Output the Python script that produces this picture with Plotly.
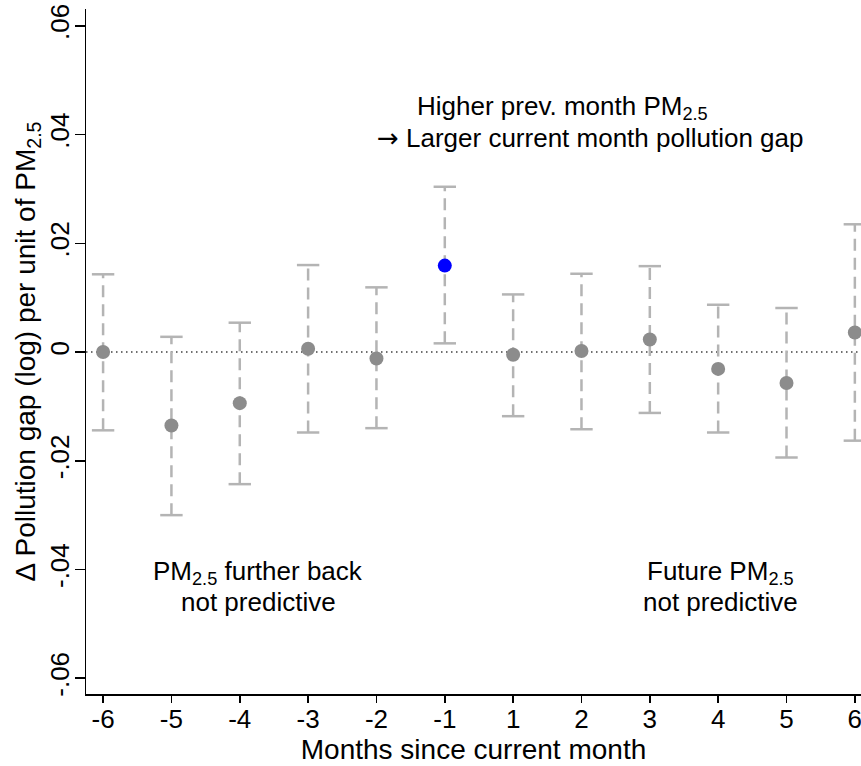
import plotly.graph_objects as go

# ---- data ----
month_labels = ["-6", "-5", "-4", "-3", "-2", "-1", "1", "2", "3", "4", "5", "6"]
coef = [0.0000, -0.0135, -0.0094, 0.0006, -0.0012, 0.0159,
        -0.0005, 0.0002, 0.0023, -0.0031, -0.0057, 0.0036]
ci_low = [-0.0144, -0.0300, -0.0243, -0.0148, -0.0140, 0.0016,
          -0.0118, -0.0142, -0.0112, -0.0148, -0.0194, -0.0163]
ci_high = [0.0143, 0.0028, 0.0054, 0.0160, 0.0119, 0.0304,
           0.0106, 0.0144, 0.0158, 0.0087, 0.0081, 0.0235]
highlight = "-1"
ytick_vals = [-0.06, -0.04, -0.02, 0, 0.02, 0.04, 0.06]
ytick_text = ["-.06", "-.04", "-.02", "0", ".02", ".04", ".06"]

FONT = "Liberation Sans, Arial, sans-serif"
GREY = "#8c8c8c"
CI_COL = "#b4b4b4"
BLUE = "#0000ff"
FS = 26
FS_TITLE = 28

pos = list(range(len(month_labels)))

fig = go.Figure()

# CI dashed lines
cx, cy = [], []
for p, lo, hi in zip(pos, ci_low, ci_high):
    cx += [p, p, None]
    cy += [lo, hi, None]
fig.add_trace(go.Scatter(x=cx, y=cy, mode="lines",
                         line=dict(color=CI_COL, width=2.5, dash="12px,7px"),
                         hoverinfo="skip", showlegend=False))
# caps
fig.add_trace(go.Scatter(x=pos + pos, y=ci_low + ci_high, mode="markers",
                         marker=dict(symbol="line-ew", size=16,
                                     line=dict(color=CI_COL, width=2.5)),
                         hoverinfo="skip", showlegend=False))
# points
gx = [p for p, m in zip(pos, month_labels) if m != highlight]
gy = [c for c, m in zip(coef, month_labels) if m != highlight]
bx = [p for p, m in zip(pos, month_labels) if m == highlight]
by = [c for c, m in zip(coef, month_labels) if m == highlight]
fig.add_trace(go.Scatter(x=gx, y=gy, mode="markers",
                         marker=dict(color=GREY, size=14), showlegend=False))
fig.add_trace(go.Scatter(x=bx, y=by, mode="markers",
                         marker=dict(color=BLUE, size=14), showlegend=False))

# zero reference line
fig.add_shape(type="line", xref="paper", yref="y", x0=0, x1=1, y0=0, y1=0,
              line=dict(color="#404040", width=1.5, dash="1.5px,3.5px"),
              layer="below")

ann_font = dict(family=FONT, size=FS, color="black")
fig.add_annotation(x=4.56, y=0.0449, xref="x", yref="y", xanchor="left",
                   text="Higher prev. month PM<sub>2.5</sub>", showarrow=False,
                   font=ann_font)
fig.add_annotation(x=3.98, y=0.0393, xref="x", yref="y", xanchor="left",
                   text="<span style='font-family:DejaVu Sans'>→</span> Larger current month pollution gap",
                   showarrow=False, font=ann_font)
fig.add_annotation(x=2.27, y=-0.0405, xref="x", yref="y", xanchor="center",
                   text="PM<sub>2.5</sub> further back", showarrow=False,
                   font=ann_font)
fig.add_annotation(x=2.27, y=-0.0460, xref="x", yref="y", xanchor="center",
                   text="not predictive", showarrow=False, font=ann_font)
fig.add_annotation(x=9.03, y=-0.0405, xref="x", yref="y", xanchor="center",
                   text="Future PM<sub>2.5</sub>", showarrow=False,
                   font=ann_font)
fig.add_annotation(x=9.03, y=-0.0460, xref="x", yref="y", xanchor="center",
                   text="not predictive", showarrow=False, font=ann_font)

fig.update_layout(
    width=861, height=766,
    margin=dict(l=86, r=0, t=9, b=72),
    paper_bgcolor="white", plot_bgcolor="white",
    font=dict(family=FONT, size=FS, color="black"),
    showlegend=False,
    xaxis=dict(range=[-0.25, 11.09], tickvals=pos, ticktext=month_labels,
               automargin=False, ticklabeloverflow="allow",
               showgrid=False, zeroline=False, showline=True,
               linecolor="black", linewidth=1.5, ticks="outside",
               ticklen=7, tickwidth=1.5, tickcolor="black",
               tickfont=dict(size=FS), ticklabelstandoff=-6,
               title=dict(text="Months since current month", standoff=0,
                          font=dict(size=FS_TITLE))),
    yaxis=dict(range=[-0.0629, 0.0631], tickvals=ytick_vals,
               ticktext=ytick_text, tickangle=-90, automargin=False,
               ticklabeloverflow="allow",
               showgrid=False, zeroline=False, showline=True,
               linecolor="black", linewidth=1.5, ticks="outside",
               ticklen=10, tickwidth=1.5, tickcolor="black",
               tickfont=dict(size=FS), ticklabelstandoff=-5,
               title=dict(text="Δ Pollution gap (log) per unit of PM<sub>2.5</sub>",
                          standoff=0, font=dict(size=FS_TITLE))),
)

# remove the default page margin so the figure fills the window exactly
fig.write_html("out.html",
               config={"displayModeBar": False, "staticPlot": True},
               post_script="document.body.style.margin='0';document.body.style.overflow='hidden';")
